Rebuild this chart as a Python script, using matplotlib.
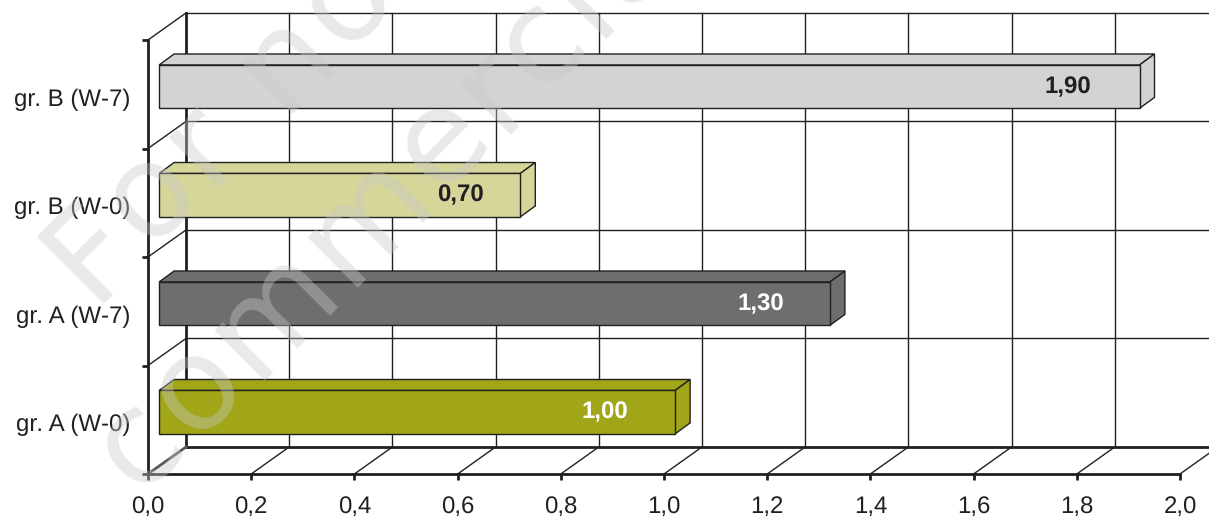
import matplotlib.pyplot as plt
from matplotlib.patches import Polygon
from matplotlib.font_manager import FontProperties
from matplotlib.textpath import text_to_path
import math

plt.rcParams['font.family'] = ['Liberation Sans', 'DejaVu Sans']
plt.rcParams['text.hinting'] = 'no_hinting'
plt.rcParams['text.hinting_factor'] = 1

categories = ['gr. A (W-0)', 'gr. A (W-7)', 'gr. B (W-0)', 'gr. B (W-7)']
values = [1.00, 1.30, 0.70, 1.90]
value_labels = ['1,00', '1,30', '0,70', '1,90']
x_ticks = [0.0, 0.2, 0.4, 0.6, 0.8, 1.0, 1.2, 1.4, 1.6, 1.8, 2.0]
x_tick_labels = ['0,0', '0,2', '0,4', '0,6', '0,8', '1,0', '1,2', '1,4', '1,6', '1,8', '2,0']

bar_colors = ['#A0A617', '#6D6E70', '#D6D69B', '#D1D3D4']
text_colors = ['white', 'white', '#231F20', '#231F20']
ink = '#231F20'

W, H = 1209, 517
fig = plt.figure(figsize=(W / 100, H / 100), dpi=100)
ax = fig.add_axes([148 / W, (H - 474) / H, 1032 / W, 434 / H])
ax.set_xlim(0, 2)
ax.set_ylim(0, 4)

# depth of the 3D box and of the bars, in data units
dx, dy = 0.0736, 0.249
bar_dx, bar_dy = 0.029, 0.101
bar_x0, bar_y0, bar_h = 0.0216, 0.37, 0.40
label_inset = [0.137, 0.134, 0.117, 0.139]

# back wall grid, allowed to run off the right edge
for y in range(5):
    lw = 2 if y == 0 else 1
    ax.plot([dx, 2 + dx], [y + dy, y + dy], color=ink, lw=lw, clip_on=False, zorder=1)
    ax.plot([0, dx], [y, y + dy], color=ink, lw=1, clip_on=False, zorder=1)
for x in x_ticks:
    lw = 2 if x == 0 else 1
    ax.plot([x + dx, x + dx], [dy, 4 + dy], color=ink, lw=lw, clip_on=False, zorder=1)
    ax.plot([x, x + dx], [0, dy], color='#58595B' if x == 0 else ink, lw=2 if x == 0 else 1,
            clip_on=False, zorder=1)

# bars: top and side faces first, then the front
for i, v in enumerate(values):
    x0 = bar_x0
    x1 = bar_x0 + v
    y0 = i + bar_y0
    y1 = y0 + bar_h
    top = [(x0, y1), (x0 + bar_dx, y1 + bar_dy), (x1 + bar_dx, y1 + bar_dy), (x1, y1)]
    side = [(x1, y0), (x1 + bar_dx, y0 + bar_dy), (x1 + bar_dx, y1 + bar_dy), (x1, y1)]
    front = [(x0, y0), (x1, y0), (x1, y1), (x0, y1)]
    for pts in (top, side, front):
        ax.add_patch(Polygon(pts, closed=True, facecolor=bar_colors[i], edgecolor=ink,
                             lw=1, joinstyle='miter', zorder=3, clip_on=False))
    ax.text(x1 - label_inset[i], y0 + bar_h / 2, value_labels[i], color=text_colors[i],
            fontsize=17, fontweight='bold', ha='center', va='center', zorder=4)

for side in ('top', 'right'):
    ax.spines[side].set_visible(False)
for side in ('left', 'bottom'):
    ax.spines[side].set_linewidth(2)
    ax.spines[side].set_color(ink)
    ax.spines[side].set_zorder(2)

ax.set_xticks(x_ticks)
ax.set_xticklabels(x_tick_labels, fontsize=17, color=ink)
ax.tick_params(axis='x', length=4.5, width=2, color=ink, pad=11)
ax.set_yticks(range(5))
ax.set_yticklabels([])
ax.tick_params(axis='y', which='major', length=4.5, width=2, color=ink)
ax.set_yticks([0.475, 1.475, 2.475, 3.475], minor=True)
ax.set_yticklabels(categories, minor=True, fontsize=17.5, color=ink)
ax.tick_params(axis='y', which='minor', length=0, pad=13)


def stamp_line(text, px, py, tracking=5, size=93.6, angle=45):
    # letters are placed one by one to get the wide tracking
    prop = FontProperties(family='DejaVu Sans', size=size)
    c, s = math.cos(math.radians(angle)), math.sin(math.radians(angle))
    for ch in text:
        if px < W + 200 and py > -200:
            fig.text(px / W, (H - py) / H, ch, fontproperties=prop, color='#C8C8C8', alpha=0.4,
                     rotation=angle, rotation_mode='anchor', ha='left', va='baseline', zorder=10)
        w = text_to_path.get_text_width_height_descent(ch, prop, False)[0] * 100 / 72
        px += (w + tracking) * c
        py -= (w + tracking) * s


stamp_line('For non-', 91, 304)
stamp_line('commercial use', 139, 495)

plt.savefig('out.png', dpi=100)
